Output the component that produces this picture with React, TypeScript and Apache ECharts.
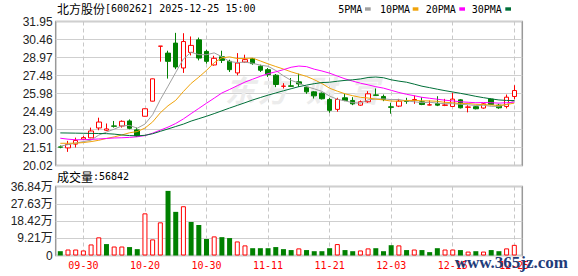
import React, { useEffect, useRef } from 'react';
import * as echarts from 'echarts';

const stockName = '北方股份';
const stockInfo = '[600262] 2025-12-25 15:00';
const volumeTitle = '成交量';

const dates = [
  '09-25', '09-26', '09-29', '09-30', '10-09', '10-10', '10-13', '10-14', '10-15', '10-16',
  '10-17', '10-20', '10-21', '10-22', '10-23', '10-24', '10-27', '10-28', '10-29', '10-30',
  '10-31', '11-03', '11-04', '11-05', '11-06', '11-07', '11-10', '11-11', '11-12', '11-13',
  '11-14', '11-17', '11-18', '11-19', '11-20', '11-21', '11-24', '11-25', '11-26', '11-27',
  '11-28', '12-01', '12-02', '12-03', '12-04', '12-05', '12-08', '12-09', '12-10', '12-11',
  '12-12', '12-15', '12-16', '12-17', '12-18', '12-19', '12-22', '12-23', '12-24', '12-25',
];
const labelDates = ['09-30', '10-20', '10-30', '11-11', '11-21', '12-03', '12-15', '12-25'];

const opens = [
  21.56, 21.48, 21.79, 22.20, 22.31, 23.13, 22.94, 23.30, 23.29, 23.71,
  22.97, 24.10, 25.35, 29.90, 29.33, 30.16, 28.10, 29.39, 30.43, 29.47,
  28.35, 29.03, 28.65, 27.69, 28.59, 28.87, 28.24, 27.96, 27.50, 26.58,
  26.62, 26.95, 26.51, 26.12, 26.01, 25.49, 24.67, 25.63, 25.41, 25.02,
  25.30, 25.87, 25.74, 24.88, 24.94, 25.37, 25.41, 25.30, 25.03, 25.15,
  25.00, 24.91, 25.46, 24.84, 24.89, 24.78, 25.52, 25.02, 24.91, 25.74,
];
const closes = [
  21.54, 21.76, 22.09, 22.33, 22.88, 23.62, 23.05, 23.27, 23.68, 23.10,
  22.47, 24.72, 27.20, 29.91, 28.65, 28.18, 30.29, 29.97, 28.92, 28.65,
  28.90, 28.73, 27.96, 28.51, 28.79, 28.46, 27.91, 27.55, 26.73, 26.60,
  26.58, 26.78, 26.12, 25.79, 25.55, 24.59, 25.49, 25.41, 25.13, 25.30,
  25.96, 25.83, 25.49, 24.84, 25.35, 25.33, 25.49, 25.08, 25.05, 25.02,
  25.04, 25.52, 24.80, 24.87, 24.72, 25.13, 25.08, 24.80, 25.68, 26.23,
];
const lows = [
  21.45, 21.15, 21.51, 22.14, 22.28, 22.94, 22.88, 23.16, 23.16, 23.02,
  22.39, 24.08, 25.33, 28.62, 27.22, 28.00, 27.69, 29.14, 28.73, 28.46,
  28.29, 28.51, 27.77, 27.49, 28.51, 28.37, 27.77, 27.36, 26.51, 26.40,
  26.56, 26.53, 25.96, 25.57, 25.49, 24.39, 24.48, 25.35, 25.02, 24.97,
  25.22, 25.79, 25.35, 24.31, 24.86, 25.13, 25.13, 25.02, 25.00, 24.94,
  24.94, 24.86, 24.75, 24.42, 24.67, 24.72, 25.02, 24.72, 24.75, 25.52,
];
const highs = [
  21.68, 22.06, 22.33, 22.47, 23.16, 23.98, 23.50, 23.71, 23.76, 23.84,
  23.16, 24.74, 27.22, 29.92, 29.53, 31.01, 30.98, 30.71, 30.62, 29.61,
  29.11, 29.53, 28.79, 29.33, 29.20, 28.92, 28.37, 28.10, 27.60, 26.84,
  27.27, 27.63, 26.59, 26.18, 26.07, 25.63, 25.63, 25.96, 25.68, 25.41,
  26.18, 26.40, 25.90, 25.22, 25.54, 25.63, 25.82, 25.68, 25.40, 25.76,
  25.54, 26.04, 25.52, 25.02, 24.94, 25.19, 25.57, 25.13, 25.90, 26.67,
];
const volumes = [
  23000, 32000, 32000, 27000, 59000, 97000, 61000, 48000, 48000, 45000,
  34000, 225000, 86000, 177000, 345000, 233000, 263000, 179000, 163000, 88000,
  102000, 98000, 93000, 75000, 54000, 39000, 39000, 39000, 45000, 34000,
  29000, 38000, 29000, 23000, 23000, 39000, 61000, 29000, 23000, 27000,
  38000, 39000, 23000, 55000, 54000, 29000, 32000, 29000, 18000, 39000,
  32000, 32000, 29000, 21000, 23000, 21000, 29000, 23000, 38000, 56842,
];
const ma5 = [
  21.62, 21.75, 21.88, 22.00, 22.12, 22.54, 22.79, 23.03, 23.30, 23.34,
  23.11, 23.45, 24.23, 25.48, 26.59, 27.73, 28.85, 29.40, 29.20, 29.20,
  29.35, 29.03, 28.63, 28.55, 28.58, 28.49, 28.33, 28.24, 27.89, 27.45,
  27.07, 26.85, 26.56, 26.37, 26.16, 25.77, 25.51, 25.37, 25.23, 25.18,
  25.46, 25.53, 25.54, 25.48, 25.49, 25.37, 25.30, 25.22, 25.26, 25.19,
  25.14, 25.14, 25.09, 25.05, 24.99, 25.01, 24.92, 24.92, 25.08, 25.38,
];
const ma10 = [
  21.86, 21.86, 21.87, 21.92, 22.00, 22.11, 22.26, 22.39, 22.55, 22.73,
  22.83, 23.12, 23.63, 24.39, 24.97, 25.42, 26.15, 26.82, 27.34, 27.90,
  28.54, 28.94, 29.02, 28.88, 28.89, 28.92, 28.68, 28.44, 28.22, 28.01,
  27.78, 27.59, 27.40, 27.13, 26.81, 26.42, 26.18, 25.96, 25.80, 25.67,
  25.61, 25.52, 25.45, 25.36, 25.34, 25.41, 25.41, 25.38, 25.37, 25.34,
  25.25, 25.22, 25.15, 25.16, 25.09, 25.07, 25.03, 25.00, 25.07, 25.19,
];
const ma20 = [
  22.28, 22.20, 22.15, 22.16, 22.18, 22.22, 22.26, 22.30, 22.32, 22.35,
  22.40, 22.50, 22.70, 22.95, 23.20, 23.50, 23.88, 24.32, 24.75, 25.18,
  25.60, 26.03, 26.32, 26.63, 26.93, 27.17, 27.41, 27.63, 27.78, 27.96,
  28.16, 28.26, 28.21, 28.00, 27.85, 27.67, 27.43, 27.20, 27.01, 26.84,
  26.70, 26.55, 26.43, 26.25, 26.07, 25.92, 25.80, 25.67, 25.59, 25.51,
  25.43, 25.37, 25.30, 25.26, 25.22, 25.24, 25.22, 25.19, 25.22, 25.27,
];
const ma30 = [
  22.72, 22.71, 22.70, 22.69, 22.68, 22.67, 22.66, 22.62, 22.55, 22.50,
  22.48, 22.52, 22.65, 22.85, 23.05, 23.25, 23.45, 23.70, 23.90, 24.10,
  24.32, 24.55, 24.78, 25.00, 25.22, 25.45, 25.65, 25.85, 26.03, 26.21,
  26.38, 26.55, 26.68, 26.80, 26.89, 26.92, 27.00, 27.07, 27.12, 27.19,
  27.31, 27.35, 27.29, 27.12, 27.01, 26.92, 26.76, 26.59, 26.47, 26.34,
  26.22, 26.11, 26.00, 25.88, 25.75, 25.64, 25.54, 25.45, 25.41, 25.40,
];
const maNames = ['5PMA', '10PMA', '20PMA', '30PMA'];
const priceTicks = ['20.02', '21.51', '23.00', '24.49', '25.98', '27.48', '28.97', '30.46', '31.95'];
const volumeTicks = ['0', '9.21万', '18.42万', '27.63万', '36.84万'];
const volumeTickValues = [0, 92100, 184200, 276300, 368400];

const UP = '#ff0000';
const DOWN = '#008000';
const MA_COLORS = ['#a0a0a0', '#f0a30a', '#ff00ff', '#006f38'];
const MONO = '"DejaVu Sans Mono", monospace';
const CJK = '"Noto Sans CJK SC", sans-serif';
const NUM = '"Liberation Sans", "Noto Sans CJK SC", sans-serif';

export default function App() {
  const ref = useRef<HTMLDivElement>(null);
  useEffect(() => {
    document.body.style.margin = '0';
    if (!ref.current) return;
    const chart = echarts.init(ref.current, undefined, { renderer: 'svg' });

    const FRAME_L = 55.7, FRAME_W = 466.6;
    const DATA_L = 60.3, DATA_W = 454;
    const MAIN_TOP = 21.5, MAIN_H = 144;
    const VOL_TOP = 186.5, VOL_H = 69;

    const pMin = parseFloat(priceTicks[0]);
    const pMax = parseFloat(priceTicks[priceTicks.length - 1]);
    const pInt = (pMax - pMin) / (priceTicks.length - 1);
    const vMin = volumeTickValues[0];
    const vMax = volumeTickValues[volumeTickValues.length - 1];
    const vInt = (vMax - vMin) / (volumeTickValues.length - 1);

    const isLabel = (_i: number, v: string) => labelDates.includes(v);

    const candleData = dates.map((_, i) => [opens[i], closes[i], lows[i], highs[i]]);
    const volData = volumes.map((v, i) => {
      const up = i === 0 ? closes[i] >= opens[i] : closes[i] >= closes[i - 1];
      return {
        value: v,
        itemStyle: up
          ? { color: '#ffffff', borderColor: UP, borderWidth: 1 }
          : { color: DOWN, borderColor: DOWN, borderWidth: 0 },
      };
    });
    const maSeries = [ma5, ma10, ma20, ma30].map((d, k) => ({
      name: maNames[k],
      type: 'line',
      xAxisIndex: 1,
      yAxisIndex: 1,
      data: d,
      showSymbol: false,
      symbol: 'none',
      lineStyle: { width: 1, color: MA_COLORS[k] },
      itemStyle: { color: MA_COLORS[k] },
      z: 3,
    }));

    const legendTextX = [338.3, 380, 425.7, 471.7];
    const legendMarkX = [365, 412.7, 459.3, 505.3];
    const legendGraphics: any[] = [];
    maNames.forEach((n, k) => {
      legendGraphics.push({
        type: 'text', x: legendTextX[k], y: 9,
        style: { text: n, fill: '#000', fontSize: 10, fontFamily: MONO, verticalAlign: 'middle', align: 'left' },
      });
      legendGraphics.push({
        type: 'rect', shape: { x: legendMarkX[k], y: 7.3, width: 5.7, height: 3.4 },
        style: { fill: MA_COLORS[k] },
      });
    });

    const wm = ['东', '方', '财', '富'];
    const wmX = [240, 273, 321, 364];

    chart.setOption({
      animation: false,
      grid: [
        { left: FRAME_L, top: MAIN_TOP, width: FRAME_W, height: MAIN_H, show: true, borderColor: '#999', borderWidth: 1.5, backgroundColor: 'transparent' },
        { left: DATA_L, top: MAIN_TOP, width: DATA_W, height: MAIN_H, show: false },
        { left: FRAME_L, top: VOL_TOP, width: FRAME_W, height: VOL_H, show: true, borderColor: '#999', borderWidth: 1.5, backgroundColor: 'transparent' },
        { left: DATA_L, top: VOL_TOP, width: DATA_W, height: VOL_H, show: false },
      ],
      xAxis: [
        { gridIndex: 0, type: 'value', min: 0, max: 1, show: false },
        {
          gridIndex: 1, type: 'category', data: dates, boundaryGap: false,
          axisLine: { show: false }, axisTick: { show: false }, axisLabel: { show: false },
          splitLine: { show: true, interval: isLabel, lineStyle: { color: '#c8c8c8', type: [4, 3], width: 1 } },
        },
        { gridIndex: 2, type: 'value', min: 0, max: 1, show: false },
        {
          gridIndex: 3, type: 'category', data: dates, boundaryGap: false,
          axisLine: { show: false }, axisTick: { show: false },
          axisLabel: { show: true, interval: isLabel, color: UP, fontSize: 10, fontFamily: MONO, margin: 5 },
          splitLine: { show: true, interval: isLabel, lineStyle: { color: '#c8c8c8', type: [4, 3], width: 1 } },
        },
      ],
      yAxis: [
        {
          gridIndex: 0, type: 'value', min: pMin, max: pMax, interval: pInt,
          axisLine: { show: false }, axisTick: { show: false },
          axisLabel: {
            margin: 3, color: '#222', fontSize: 12, fontFamily: NUM,
            formatter: (v: number) => priceTicks[Math.round((v - pMin) / pInt)] ?? '',
          },
          splitLine: { show: true, lineStyle: { color: '#cfcfcf', width: 1 } },
        },
        { gridIndex: 1, type: 'value', min: pMin, max: pMax, show: false, splitLine: { show: false } },
        {
          gridIndex: 2, type: 'value', min: vMin, max: vMax, interval: vInt,
          axisLine: { show: false }, axisTick: { show: false },
          axisLabel: {
            margin: 3, color: '#222', fontSize: 12, fontFamily: NUM,
            formatter: (v: number) => volumeTicks[Math.round((v - vMin) / vInt)] ?? '',
          },
          splitLine: { show: true, lineStyle: { color: '#cfcfcf', width: 1 } },
        },
        { gridIndex: 3, type: 'value', min: vMin, max: vMax, show: false, splitLine: { show: false } },
      ],
      series: [
        {
          type: 'candlestick', xAxisIndex: 1, yAxisIndex: 1, data: candleData,
          barWidth: 5, clip: false, z: 2,
          itemStyle: { color: '#ffffff', color0: DOWN, borderColor: UP, borderColor0: DOWN, borderWidth: 1 },
        },
        ...maSeries,
        {
          type: 'bar', xAxisIndex: 3, yAxisIndex: 3, data: volData, barWidth: 5, clip: false, z: 2,
        },
      ],
      graphic: [
        ...wm.map((c, k) => ({
          type: 'text', x: wmX[k], y: 89, z: 1,
          style: { text: c, fill: '#ececec', fontSize: 30, fontWeight: 'bold', fontStyle: 'italic', fontFamily: CJK, align: 'center', verticalAlign: 'middle' },
        })),
        {
          type: 'text', x: 57, y: 8.5, z: 10,
          style: {
            text: '{n|' + stockName + '}{r|' + stockInfo + '}',
            verticalAlign: 'middle', align: 'left',
            rich: {
              n: { fontSize: 12, fontFamily: CJK, fill: '#000', color: '#000' },
              r: { fontSize: 10, fontFamily: MONO, fill: '#000', color: '#000' },
            },
          },
        },
        ...legendGraphics,
        {
          type: 'text', x: 57, y: 176.7, z: 10,
          style: {
            text: '{n|' + volumeTitle + '}{r|:' + volumes[volumes.length - 1] + '}',
            verticalAlign: 'middle', align: 'left',
            rich: {
              n: { fontSize: 12, fontFamily: CJK, fill: '#000', color: '#000' },
              r: { fontSize: 10, fontFamily: MONO, fill: '#000', color: '#000' },
            },
          },
        },
        {
          type: 'text', x: 454.7, y: 262, z: 20,
          style: { text: 'www.365jz.com', fill: '#1f3c7a', fontSize: 17, fontWeight: 'bold', fontFamily: '"Liberation Serif", serif', verticalAlign: 'middle', align: 'left' },
        },
      ],
    });
    return () => chart.dispose();
  }, []);
  return <div ref={ref} style={{ position: 'fixed', left: 0, top: 0, width: 578, height: 276, background: '#fff' }} />;
}
